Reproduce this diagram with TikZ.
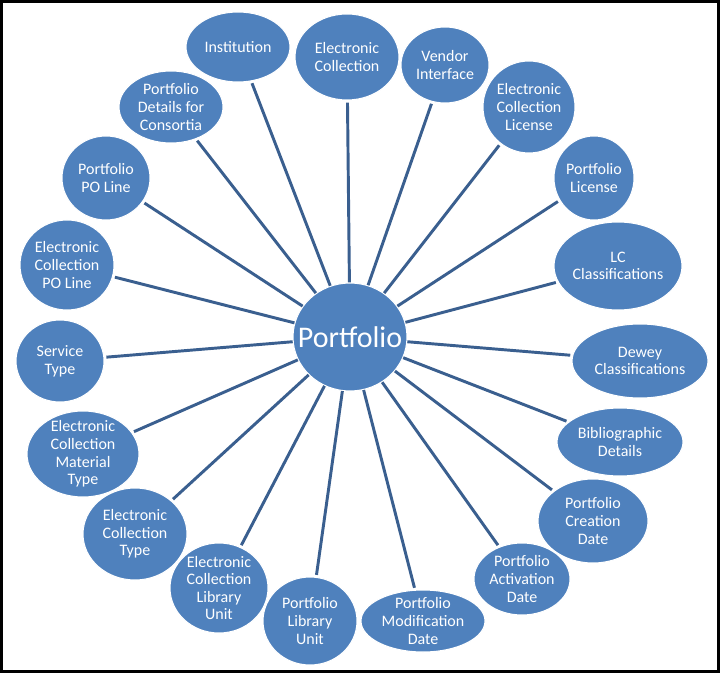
\documentclass[tikz,border=0pt]{standalone}
\usepackage{fontspec}
\setmainfont{Carlito}
\usetikzlibrary{shapes.geometric}
\definecolor{bubble}{HTML}{4F81BD}
\definecolor{linkc}{HTML}{3A5F8F}
\tikzset{
  bub/.style={ellipse, fill=bubble, draw=white, line width=0.8pt, inner sep=0pt},
  btext/.style={text=white, align=center, font=\fontsize{12}{13.2}\selectfont},
  conn/.style={draw=linkc, line width=2.2pt, shorten >=1.5pt}
}
\newcommand\bubnode[6]{%
  \node[bub, minimum width=#4*1.5pt, minimum height=#5*1.5pt,
    label={[btext]center:{#6}}] (#1) at (#2,#3) {};}
\begin{document}
\begin{tikzpicture}[x=0.75pt,y=-0.75pt]
\fill[black] (0,0) rectangle (720,673);
\fill[white] (3,3) rectangle (717,670);
\useasboundingbox (0,0) rectangle (720,673);
% outer bubbles
\bubnode{inst}{238}{47}{52}{35}{Institution}
\bubnode{ecol}{347}{57}{52}{43}{Electronic\\Collection}
\bubnode{vend}{445}{65}{44}{38}{Vendor\\Interface}
\bubnode{ecl}{529}{107}{46}{46}{Electronic\\Collection\\License}
\bubnode{plic}{594}{178}{40}{42}{Portfolio\\License}
\bubnode{lc}{618}{266}{64}{44}{LC\\Classifications}
\bubnode{dew}{640}{361}{68}{37}{Dewey\\Classifications}
\bubnode{bib}{620}{442}{63}{34}{Bibliographic\\Details}
\bubnode{pcd}{593}{521}{55}{42}{Portfolio\\Creation\\Date}
\bubnode{pad}{522}{579}{48}{36}{Portfolio\\Activation\\Date}
\bubnode{pmd}{423}{621}{62}{31}{Portfolio\\Modification\\Date}
\bubnode{plu}{310}{621}{47}{44}{Portfolio\\Library\\Unit}
\bubnode{eclu}{219}{588}{49}{45}{Electronic\\Collection\\Library\\Unit}
\bubnode{ect}{135}{534}{52}{46}{Electronic\\Collection\\Type}
\bubnode{ecmt}{83}{454}{56}{43}{Electronic\\Collection\\Material\\Type}
\bubnode{serv}{60}{361}{44}{41}{Service\\Type}
\bubnode{ecpo}{67}{265}{47}{45}{Electronic\\Collection\\PO Line}
\bubnode{ppo}{106}{178}{44}{42}{Portfolio\\PO Line}
\bubnode{pdc}{171}{107}{52}{36}{Portfolio\\Details for\\Consortia}
% center
\node[bub, minimum width=57*1.5pt, minimum height=54*1.5pt,
  label={[text=white, font=\fontsize{22.5}{26}\selectfont]center:Portfolio}] (p) at (350,337) {};
% connectors
\foreach \n in {inst,ecol,vend,ecl,plic,lc,dew,bib,pcd,pad,pmd,plu,eclu,ect,ecmt,serv,ecpo,ppo,pdc}
  \draw[conn] (p) -- (\n);
\end{tikzpicture}
\end{document}
